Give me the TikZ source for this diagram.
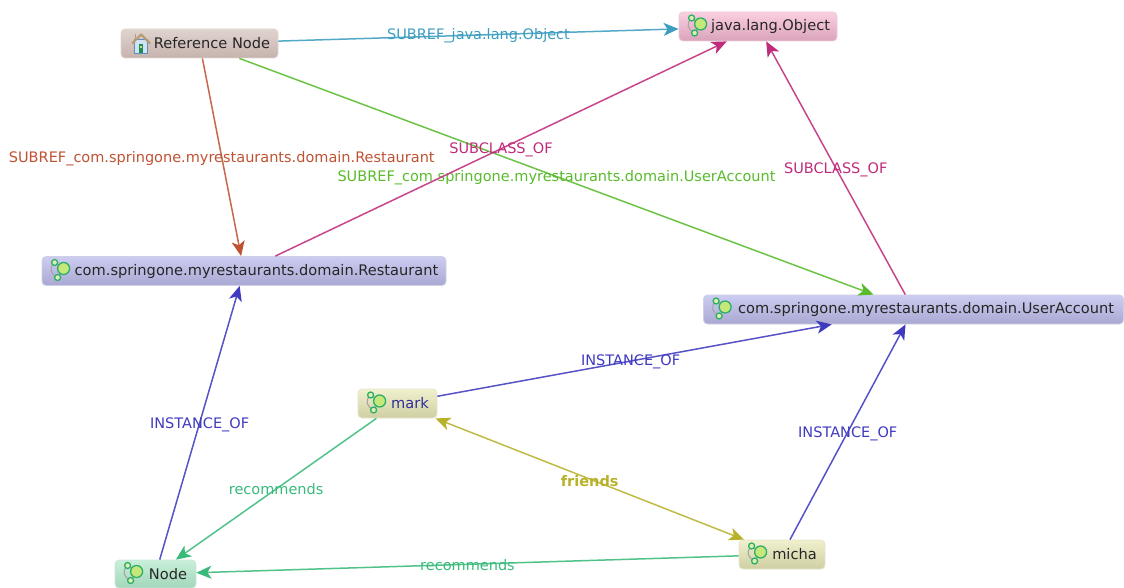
\documentclass[tikz,border=0pt]{standalone}
\usepackage{fontspec}
\setmainfont{DejaVu Sans}
\usetikzlibrary{arrows.meta}
\definecolor{cblue}{HTML}{3C9DBF}
\definecolor{cred}{HTML}{BF5232}
\definecolor{cgreen}{HTML}{58BB2C}
\definecolor{cmag}{HTML}{C02C7C}
\definecolor{cind}{HTML}{3F3ABF}
\definecolor{csea}{HTML}{38BA7A}
\definecolor{coli}{HTML}{B7B22A}
\newcommand{\boxtext}[1]{\raisebox{-1pt}{\hspace*{25pt}#1}}
\tikzset{
  x=1pt,y=-1pt,
  gbox/.style={rounded corners=4pt,draw=#1!55!white,line width=.8pt,inner sep=0pt,
    minimum height=29pt,align=center,text=black!85,font=\fontsize{14.6}{16}\selectfont},
  gbox/.default=gray,
  refbox/.style={gbox=RefB,top color=RefA,bottom color=RefB},
  objbox/.style={gbox=ObjB,top color=ObjA,bottom color=ObjB},
  clsbox/.style={gbox=ClsB,top color=ClsA,bottom color=ClsB},
  perbox/.style={gbox=PerB,top color=PerA,bottom color=PerB},
  nodbox/.style={gbox=NodB,top color=NodA,bottom color=NodB},
  conn/.style={draw=#1!88!white,line width=1.5pt,-{Stealth[length=15pt,width=13pt,inset=4pt,color=#1]},shorten >=0pt,
    every node/.append style={text=#1,font=\fontsize{14.5}{16}\selectfont,inner sep=0pt}},
  bothconn/.style={conn=#1,{Stealth[length=15pt,width=13pt,inset=4pt,color=#1]}-{Stealth[length=15pt,width=13pt,inset=4pt,color=#1]},shorten <=0pt},
  graphicon/.pic={
    \draw[gray!70,line width=1.1pt] (13,-8.5) .. controls (7,-3) and (9,3) .. (16,6.5);
    \draw[gray!70,line width=1.1pt] (13,-8.5) -- (22,-2.5) -- (16,6.5);
    \draw[fill=IconF,draw=IconD,line width=1.3pt] (22,-2.5) circle (6);
    \draw[fill=IconF!60!white,draw=IconD,line width=1.3pt] (13,-8.5) circle (3);
    \draw[fill=IconF!60!white,draw=IconD,line width=1.3pt] (16,6.5) circle (3);
  },
  homeicon/.pic={
    \fill[HomeW,draw=HomeE,line width=.8pt] (14,-4) -- (14,9.5) -- (27,9.5) -- (27,-4) -- cycle;
    \draw[HomeR,line width=2.2pt,line join=round,line cap=round] (12,-0.5) -- (20.5,-9) -- (29,-0.5);
    \draw[HomeR,line width=1.6pt] (15,-4) -- (15,-9.5);
    \fill[IconD!80!black] (18.5,1) rectangle (22.5,9.5);
    \fill[IconF] (19.5,2.5) rectangle (21.5,5);
  },
}
\definecolor{RefA}{HTML}{E0D4D0}\definecolor{RefB}{HTML}{C6B2AC}
\definecolor{ObjA}{HTML}{FBCFE0}\definecolor{ObjB}{HTML}{D9A3BB}
\definecolor{ClsA}{HTML}{CDCDF2}\definecolor{ClsB}{HTML}{A8A8D2}
\definecolor{PerA}{HTML}{F0F0CE}\definecolor{PerB}{HTML}{CFCFA2}
\definecolor{NodA}{HTML}{C8F0D8}\definecolor{NodB}{HTML}{A2D6BA}
\definecolor{IconF}{HTML}{C4E87A}\definecolor{IconD}{HTML}{2FAE6A}
\definecolor{HomeW}{HTML}{CFE3F5}\definecolor{HomeE}{HTML}{5F8FBF}\definecolor{HomeR}{HTML}{B89A70}
\begin{document}
\begin{tikzpicture}
\useasboundingbox (0,0) rectangle (1124,588);
% nodes
\node[refbox,minimum width=157pt] (ref) at (199.5,43.5) {\boxtext{Reference Node}};
\node[objbox,minimum width=158pt] (obj) at (758,26.5) {\boxtext{java.lang.Object}};
\node[clsbox,minimum width=404pt] (rest) at (244,271) {\boxtext{com.springone.myrestaurants.domain.Restaurant}};
\node[clsbox,minimum width=420pt] (user) at (913.5,309.5) {\boxtext{com.springone.myrestaurants.domain.UserAccount}};
\node[perbox,minimum width=79pt,text=cind!80!black] (mark) at (397.5,403.5) {\boxtext{mark}};
\node[nodbox,minimum width=81pt,minimum height=28pt] (base) at (155.5,574) {\boxtext{Node}};
\node[perbox,minimum width=86pt] (micha) at (782,554.5) {\boxtext{micha}};
% icons
\pic at (ref.west) {homeicon};
\pic at (obj.west) {graphicon};
\pic at (rest.west) {graphicon};
\pic at (user.west) {graphicon};
\pic at (mark.west) {graphicon};
\pic at (base.west) {graphicon};
\pic at (micha.west) {graphicon};
% connectors
\draw[conn=cblue] (ref) -- (obj) node[pos=.5,yshift=-1pt] {SUBREF\_java.lang.Object};
\draw[conn=cred] (ref) -- (rest) node[pos=.5,yshift=-1pt] {SUBREF\_com.springone.myrestaurants.domain.Restaurant};
\draw[conn=cgreen] (ref) -- (user) node[pos=.5,yshift=-1pt] {SUBREF\_com.springone.myrestaurants.domain.UserAccount};
\draw[conn=cmag] (rest) -- (obj) node[pos=.5,yshift=-1pt] {SUBCLASS\_OF};
\draw[conn=cmag] (user) -- (obj) node[pos=.5,yshift=-2pt] {SUBCLASS\_OF};
\draw[conn=cind] (base) -- (rest) node[pos=.5,yshift=-2pt] {INSTANCE\_OF};
\draw[conn=cind] (mark) -- (user) node[pos=.49,yshift=-1pt] {INSTANCE\_OF};
\draw[conn=cind] (micha) -- (user) node[pos=.5,yshift=-2pt] {INSTANCE\_OF};
\draw[conn=csea] (mark) -- (base) node[pos=.5] {recommends};
\draw[conn=csea] (micha) -- (base) node[pos=.5,yshift=-1pt] {recommends};
\draw[bothconn=coli] (mark) -- (micha) node[pos=.5,yshift=-2pt,font=\fontsize{14.5}{16}\selectfont\bfseries] {friends};
\end{tikzpicture}
\end{document}
